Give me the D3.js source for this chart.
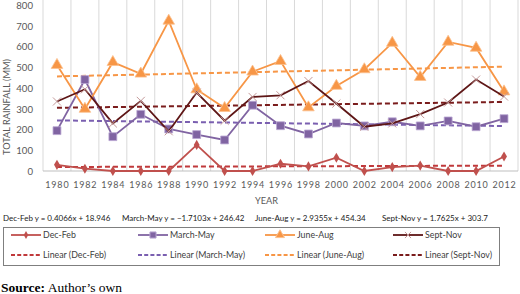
<!DOCTYPE html>
<html>
<head>
<meta charset="utf-8">
<script src="https://cdn.jsdelivr.net/npm/d3@7"></script>
<style>
	body { margin: 0; background: #fff; }
	svg { display: block; }
	.tick-y { font-family: Lato, 'Open Sans', sans-serif; font-size: 9.6px; fill: #595959; }
	.tick-x { font-family: Lato, 'Open Sans', sans-serif; font-size: 9px; fill: #595959; letter-spacing: 0.8px; }
	.axis-title { font-family: Lato, 'Open Sans', sans-serif; font-size: 9.2px; fill: #595959; }
	.eq-text { font-family: Lato, 'Open Sans', sans-serif; font-size: 8px; fill: #222; }
	.legend-text { font-family: Lato, 'Open Sans', sans-serif; font-size: 8.8px; fill: #404040; }
	.source { font-family: 'Liberation Serif', serif; font-size: 13.5px; fill: #000; }
</style>
</head>
<body>
<svg id="chart-svg" width="520" height="294"></svg>
<script>
const YEARS = ['1980', '1982', '1984', '1986', '1988', '1990', '1992', '1994', '1996', '1998', '2000', '2002', '2004', '2006', '2008', '2010', '2012'];
const Y_TICKS = [0, 100, 200, 300, 400, 500, 600, 700, 800];

const SERIES_NAMES = ['Dec-Feb', 'March-May', 'June-Aug', 'Sept-Nov'];
const DEC_FEB = [30, 11, 0, 0, 0, 126, 0, 0, 35, 22, 64, 0, 19, 26, 0, 0, 70];
const MARCH_MAY = [195, 442, 166, 274, 203, 176, 150, 318, 219, 179, 232, 218, 238, 218, 242, 214, 253];
const JUNE_AUG = [512, 300, 526, 470, 726, 394, 304, 480, 531, 307, 411, 491, 619, 454, 624, 595, 384];
const SEPT_NOV = [336, 395, 230, 339, 192, 379, 243, 358, 366, 435, 326, 214, 230, 275, 331, 442, 360];

// trend equations as printed on the chart (x = 1..17)
const TREND_SLOPES = [0.4066, -1.7103, 2.9355, 1.7625];
const TREND_INTERCEPTS = [18.946, 246.42, 454.34, 303.7];
const EQUATION_TEXTS = [
	'Dec-Feb y = 0.4066x + 18.946',
	'March-May y = \u22121.7103x + 246.42',
	'June-Aug y = 2.9355x + 454.34',
	'Sept-Nov y = 1.7625x + 303.7'
];

const STYLE = [
	{ color: '#c0504d', trend: '#c0393b', marker: d3.symbolDiamond, size: 30, markFill: '#c0504d', stroke: null },
	{ color: '#8064a2', trend: '#7a5fb0', marker: d3.symbolSquare, size: 62, markFill: '#8064a2', stroke: '#b9a6d2' },
	{ color: '#f79646', trend: '#f79646', marker: d3.symbolTriangle, size: 58, markFill: '#f79646', stroke: '#fbc08e' },
	{ color: '#5e1616', trend: '#7a1c1c', marker: d3.symbolX, size: 44, markFill: 'none', stroke: '#c49a9a' }
];

const PLOT = { left: 43, right: 518, top: 5.5, bottom: 171 };

const svg = d3.select('#chart-svg');
const seriesData = [DEC_FEB, MARCH_MAY, JUNE_AUG, SEPT_NOV];

const xBand = d3.scaleBand().domain(YEARS).range([PLOT.left, PLOT.right]);
const xScale = (year) => xBand(year) + xBand.bandwidth() / 2;
const yScale = d3.scaleLinear().domain([0, 800]).range([PLOT.bottom, PLOT.top]);

// vertical gridlines at category boundaries
const gridG = svg.append('g');
YEARS.forEach((yr) => {
	gridG.append('line')
		.attr('x1', xBand(yr) + xBand.bandwidth()).attr('x2', xBand(yr) + xBand.bandwidth())
		.attr('y1', 0).attr('y2', PLOT.bottom)
		.attr('stroke', '#d9d9d9').attr('stroke-width', 1);
});
gridG.append('line')
	.attr('x1', PLOT.left).attr('x2', PLOT.left)
	.attr('y1', 0).attr('y2', PLOT.bottom)
	.attr('stroke', '#d9d9d9');
gridG.append('line')
	.attr('x1', PLOT.left).attr('x2', PLOT.right)
	.attr('y1', PLOT.bottom).attr('y2', PLOT.bottom)
	.attr('stroke', '#bfbfbf');

// y axis labels
const yAxis = d3.axisLeft(yScale).tickValues(Y_TICKS).tickSize(0).tickPadding(0);
const yAxisG = svg.append('g').attr('transform', 'translate(' + (PLOT.left - 10) + ',0)').call(yAxis);
yAxisG.select('.domain').remove();
yAxisG.selectAll('text').attr('class', 'tick-y').attr('fill', null).style('font-family', null).style('font-size', null);

// x axis labels
const xAxis = d3.axisBottom(xBand).tickSize(0).tickPadding(0);
const xAxisG = svg.append('g').attr('transform', 'translate(0,' + 182 + ')').call(xAxis);
xAxisG.select('.domain').remove();
xAxisG.selectAll('text').attr('class', 'tick-x').attr('fill', null).style('font-family', null).style('font-size', null).attr('dx', '0.4px');

svg.append('text').attr('class', 'axis-title').attr('x', 255).attr('y', 204).text('YEAR');
svg.append('text').attr('class', 'axis-title')
	.attr('transform', 'translate(10,' + 107 + ') rotate(-90)')
	.attr('text-anchor', 'middle')
	.text('TOTAL RAINFALL (MM)');

// trend lines
const trendG = svg.append('g');
seriesData.forEach((vals, s) => {
	const pts = [0, YEARS.length - 1].map((i) => [xScale(YEARS[i]), yScale(TREND_SLOPES[s] * (i + 1) + TREND_INTERCEPTS[s])]);
	trendG.append('path')
		.attr('d', d3.line()(pts))
		.attr('fill', 'none')
		.attr('stroke', STYLE[s].trend)
		.attr('stroke-width', 2)
		.attr('stroke-dasharray', '5,3');
});

// series lines and markers
const line = d3.line().x((d, i) => xScale(YEARS[i])).y((d) => yScale(d));
seriesData.forEach((vals, s) => {
	const st = STYLE[s];
	const g = svg.append('g');
	g.append('path')
		.attr('d', line(vals))
		.attr('fill', 'none')
		.attr('stroke', st.color)
		.attr('stroke-width', 1.8);
	g.selectAll('path.mark')
		.data(vals)
		.enter()
		.append('path')
		.attr('class', 'mark')
		.attr('transform', (d, i) => 'translate(' + xScale(YEARS[i]) + ',' + yScale(d) + ')')
		.attr('d', d3.symbol().type(st.marker).size(st.size))
		.attr('fill', st.markFill)
		.attr('stroke', st.stroke || 'none')
		.attr('stroke-width', st.marker === d3.symbolX ? 1 : 0.8);
});

// equation labels
const EQ_X = [3, 122, 255, 382];
EQUATION_TEXTS.forEach((t, i) => {
	svg.append('text').attr('class', 'eq-text').attr('x', EQ_X[i]).attr('y', 221).text(t);
});

// legend
const legendG = svg.append('g');
legendG.append('rect')
	.attr('x', 3.5).attr('y', 227.5).attr('width', 496).attr('height', 38)
	.attr('fill', '#fff').attr('stroke', '#7f7f7f').attr('stroke-width', 1);
const LEG_X = [11, 138, 265, 393];
SERIES_NAMES.forEach((name, s) => {
	const st = STYLE[s];
	const x0 = LEG_X[s];
	legendG.append('line')
		.attr('x1', x0).attr('x2', x0 + 30).attr('y1', 235).attr('y2', 235)
		.attr('stroke', st.color).attr('stroke-width', 1.8);
	legendG.append('path')
		.attr('transform', 'translate(' + (x0 + 15) + ',235)')
		.attr('d', d3.symbol().type(st.marker).size(st.size * 0.6))
		.attr('fill', st.markFill)
		.attr('stroke', st.stroke || 'none');
	legendG.append('text').attr('class', 'legend-text').attr('x', x0 + 32).attr('y', 238.3).text(name);

	legendG.append('line')
		.attr('x1', x0).attr('x2', x0 + 30).attr('y1', 255).attr('y2', 255)
		.attr('stroke', st.trend).attr('stroke-width', 1.8).attr('stroke-dasharray', '4,2.2');
	legendG.append('text').attr('class', 'legend-text').attr('x', x0 + 32).attr('y', 258.3).text('Linear (' + name + ')');
});

// source note
const src = svg.append('text').attr('class', 'source').attr('x', 1).attr('y', 292);
src.append('tspan').attr('font-weight', 'bold').text('Source:');
src.append('tspan').text(' Author\u2019s own');
</script>
</body>
</html>
